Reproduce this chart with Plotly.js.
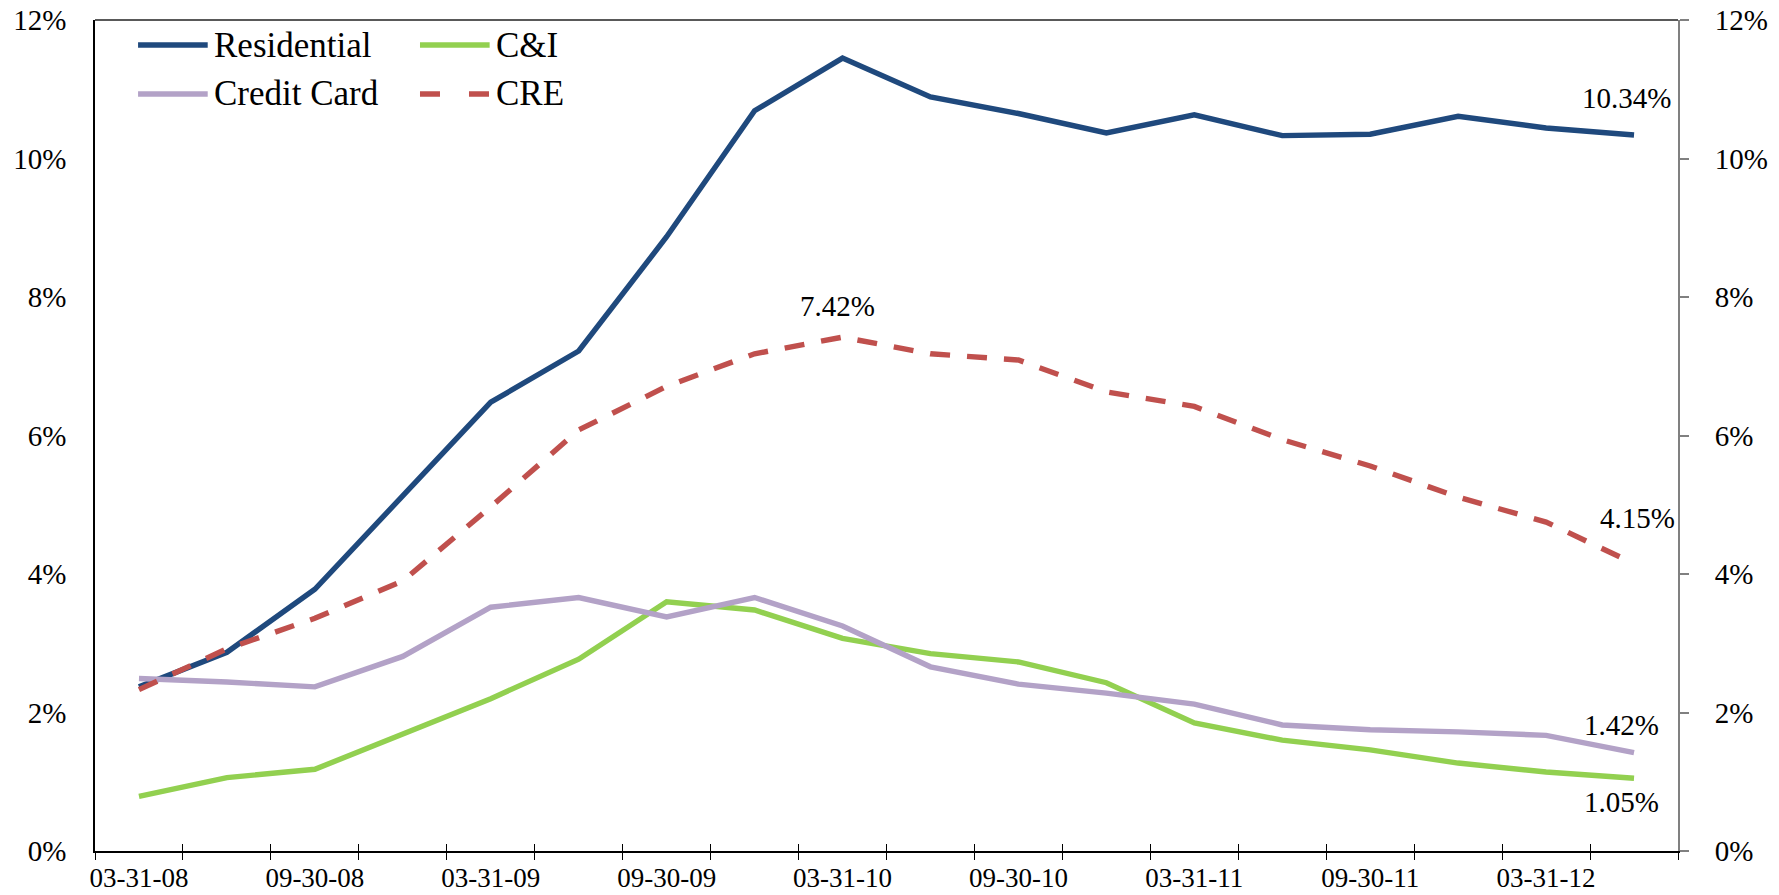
<!DOCTYPE html>
<html>
<head>
<meta charset="utf-8">
<script src="https://cdn.plot.ly/plotly-3.0.1.min.js"></script>
<style>
  html, body { margin: 0; padding: 0; background: #ffffff; }
  #chart { width: 1779px; height: 895px; }
</style>
</head>
<body>
<div id="chart"></div>
<script>
// Quarter-end dates
const quarters = [
  '03-31-08', '06-30-08', '09-30-08', '12-31-08',
  '03-31-09', '06-30-09', '09-30-09', '12-31-09',
  '03-31-10', '06-30-10', '09-30-10', '12-31-10',
  '03-31-11', '06-30-11', '09-30-11', '12-31-11',
  '03-31-12', '06-30-12'
];

// Rates by loan category (%)
const residential = [2.37, 2.87, 3.78, 5.13, 6.48, 7.22, 8.87, 10.69, 11.45, 10.89, 10.65, 10.37, 10.63, 10.33, 10.35, 10.61, 10.44, 10.34];
const cni         = [0.79, 1.06, 1.18, 1.70, 2.20, 2.77, 3.60, 3.48, 3.07, 2.85, 2.73, 2.43, 1.85, 1.60, 1.46, 1.27, 1.14, 1.05];
const creditCard  = [2.49, 2.44, 2.37, 2.81, 3.52, 3.66, 3.38, 3.66, 3.25, 2.66, 2.41, 2.28, 2.12, 1.82, 1.75, 1.72, 1.67, 1.42];
const cre         = [2.33, 2.92, 3.36, 3.90, 4.97, 6.08, 6.71, 7.18, 7.42, 7.18, 7.09, 6.63, 6.42, 5.94, 5.56, 5.11, 4.75, 4.15];

const seriesNames = ['Residential', 'C&I', 'Credit Card', 'CRE'];
const yTicks = [0, 2, 4, 6, 8, 10, 12];
const yTickText = yTicks.map(v => v + '%');

const FONT = '"Liberation Serif", "Times New Roman", serif';
const colors = { res: '#1F497D', cni: '#92D050', cc: '#B3A2C7', cre: '#C0504D' };
const CRE_DASH = '20px,17px';

const last = quarters.length - 1;
const labeledQuarters = quarters.filter((q, i) => i % 2 === 0);
const boundaries = quarters.map((q, i) => i - 0.5).concat([quarters.length - 0.5]);

const lineTrace = (name, y, color, dash) => ({
  type: 'scatter', mode: 'lines', name: name,
  x: quarters, y: y,
  line: { color: color, width: 5.4, dash: dash || 'solid' },
  hoverinfo: 'x+y+name'
});

// empty traces that bind the secondary axes so they get drawn
const axisHolder = (xa, ya) => ({
  type: 'scatter', mode: 'lines', x: [], y: [], xaxis: xa, yaxis: ya,
  hoverinfo: 'skip', showlegend: false
});

const data = [
  lineTrace(seriesNames[0], residential, colors.res),
  lineTrace(seriesNames[1], cni, colors.cni),
  lineTrace(seriesNames[2], creditCard, colors.cc),
  lineTrace(seriesNames[3], cre, colors.cre, CRE_DASH),
  axisHolder('x2', 'y'),
  axisHolder('x3', 'y'),
  axisHolder('x', 'y2')
];

const pct = v => v.toFixed(2) + '%';
const valueLabel = (idx, series, dx, dy) => ({
  xref: 'x', yref: 'y', x: quarters[idx], y: series[idx],
  text: pct(series[idx]), showarrow: false,
  xshift: dx, yshift: dy,
  font: { family: FONT, size: 29, color: '#000000' }
});

// Peak of the CRE series
const crePeak = cre.indexOf(Math.max(...cre));

const annotations = [
  valueLabel(last, residential, -8, 37),
  valueLabel(crePeak, cre, -5, 31),
  valueLabel(last, cre, 3, 46),
  valueLabel(last, creditCard, -13, 28),
  valueLabel(last, cni, -13, -24)
];

// Key: two rows of two entries
const keyEntries = [
  { name: seriesNames[0], color: colors.res, dashed: false, col: 0, row: 0 },
  { name: seriesNames[1], color: colors.cni, dashed: false, col: 1, row: 0 },
  { name: seriesNames[2], color: colors.cc, dashed: false, col: 0, row: 1 },
  { name: seriesNames[3], color: colors.cre, dashed: true, col: 1, row: 1 }
];
const keyCols = [0.0272, 0.2053];
const keyRows = [0.9699, 0.9110];
const swatchLen = 0.0440;

const shapes = [
  // top frame line
  { type: 'line', xref: 'paper', yref: 'paper', x0: 0, x1: 1, y0: 1, y1: 1,
    line: { color: '#595959', width: 2 } }
];
keyEntries.forEach(k => {
  const x0 = keyCols[k.col];
  const y = keyRows[k.row];
  shapes.push({ type: 'line', xref: 'paper', yref: 'paper',
    x0: x0, x1: x0 + swatchLen, y0: y, y1: y,
    line: { color: k.color, width: 5.5, dash: k.dashed ? '20px,29px' : 'solid' } });
  annotations.push({ xref: 'paper', yref: 'paper', x: x0 + swatchLen + 0.003, y: y,
    xanchor: 'left', yanchor: 'middle', showarrow: false, text: k.name,
    font: { family: FONT, size: 35, color: '#000000' } });
});

const xTickFont = { family: FONT, size: 27, color: '#000000' };
const yTickFont = { family: FONT, size: 29, color: '#000000' };

const layout = {
  width: 1779, height: 895,
  margin: { l: 95, r: 101, t: 20, b: 44, pad: 0 },
  paper_bgcolor: '#ffffff', plot_bgcolor: '#ffffff',
  showlegend: false,
  font: { family: FONT, color: '#000000' },
  xaxis: {
    type: 'category', range: [-0.5, quarters.length - 0.5],
    tickmode: 'array', tickvals: labeledQuarters, ticktext: labeledQuarters,
    ticks: '', showgrid: false, zeroline: false,
    showline: true, linecolor: '#000000', linewidth: 2,
    tickfont: xTickFont, ticklabelstandoff: 2, fixedrange: true
  },
  // boundary tick marks crossing the category axis
  xaxis2: {
    overlaying: 'x', anchor: 'y', type: 'linear', range: [-0.5, quarters.length - 0.5],
    tickmode: 'array', tickvals: boundaries, ticks: 'outside', ticklen: 8,
    tickcolor: '#000000', tickwidth: 1.2, showticklabels: false,
    showgrid: false, zeroline: false, showline: false, fixedrange: true
  },
  xaxis3: {
    overlaying: 'x', anchor: 'y', type: 'linear', range: [-0.5, quarters.length - 0.5],
    tickmode: 'array', tickvals: boundaries, ticks: 'inside', ticklen: 7,
    tickcolor: '#000000', tickwidth: 1.2, showticklabels: false,
    showgrid: false, zeroline: false, showline: false, fixedrange: true
  },
  yaxis: {
    range: [0, 12], tickmode: 'array', tickvals: yTicks, ticktext: yTickText,
    ticks: '', showgrid: false, zeroline: false,
    showline: true, linecolor: '#000000', linewidth: 1.5,
    tickfont: yTickFont, ticklabelstandoff: 21, fixedrange: true
  },
  yaxis2: {
    overlaying: 'y', side: 'right', anchor: 'x', range: [0, 12],
    tickmode: 'array', tickvals: yTicks, ticktext: yTickText,
    ticks: 'outside', ticklen: 9, tickcolor: '#808080', tickwidth: 2,
    showgrid: false, zeroline: false,
    showline: true, linecolor: '#808080', linewidth: 2,
    tickfont: yTickFont, ticklabelstandoff: 20, fixedrange: true
  },
  shapes: shapes,
  annotations: annotations
};

Plotly.newPlot('chart', data, layout, { displayModeBar: false });
</script>
</body>
</html>
